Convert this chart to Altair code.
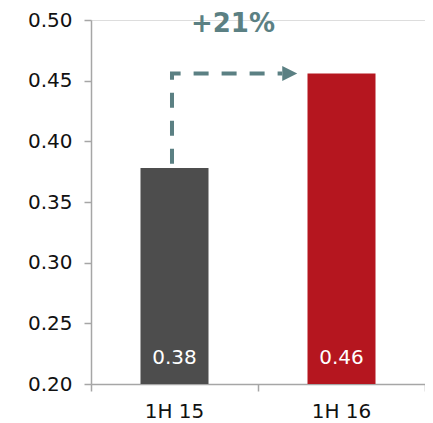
import altair as alt
import pandas as pd

categories = ["1H 15", "1H 16"]
positions = [0.5, 1.5]
values = [0.378, 0.456]
value_labels = ["0.38", "0.46"]
bar_colors = ["#4d4d4d", "#b5161f"]

arrow_x = [0.485, 0.485, 1.145]
arrow_y = [0.3815, 0.456, 0.456]
head_x = [1.19]
head_y = [0.456]
growth_label = ["+21%"]
growth_x = [0.85]
growth_y = [0.497]

W, H = 334, 364
FONT = "DejaVu Sans"
TEAL = "#5b8083"

bars_df = pd.DataFrame({"cat": categories, "pos": positions, "val": values,
                        "lab": value_labels, "color": bar_colors})
arrow_df = pd.DataFrame({"x": arrow_x, "y": arrow_y, "o": list(range(len(arrow_x)))})
head_df = pd.DataFrame({"x": head_x, "y": head_y})
growth_df = pd.DataFrame({"t": growth_label, "x": growth_x, "y": growth_y})

xscale = alt.Scale(domain=[0, 2], nice=False, zero=False, padding=0)
yscale = alt.Scale(domain=[0.2, 0.5], nice=False, zero=False, padding=0)

xaxis = alt.Axis(values=[0, 1, 2], labels=False, title=None, grid=False,
                 tickSize=7, domainColor="#a6a6a6", tickColor="#a6a6a6",
                 domainWidth=1.5, tickWidth=1.5)
yaxis = alt.Axis(values=[0.2, 0.25, 0.3, 0.35, 0.4, 0.45, 0.5], format=".2f",
                 title=None, grid=False, tickSize=7, labelPadding=12,
                 labelFont=FONT, labelFontSize=20, labelColor="#111111",
                 domainColor="#a6a6a6", tickColor="#a6a6a6",
                 domainWidth=1.5, tickWidth=1.5)

base = alt.Chart(bars_df)

bars = base.mark_bar(size=68).encode(
    x=alt.X("pos:Q", scale=xscale, axis=xaxis),
    y=alt.Y("val:Q", scale=yscale, axis=yaxis),
    y2=alt.datum(0.2),
    color=alt.Color("color:N", scale=None, legend=None),
)

bar_text = base.mark_text(font=FONT, fontSize=20, color="white", baseline="middle").encode(
    x=alt.X("pos:Q", scale=xscale),
    y=alt.value(H - 26),
    text="lab:N",
)

cat_text = base.mark_text(font=FONT, fontSize=20, color="#111111", baseline="middle").encode(
    x=alt.X("pos:Q", scale=xscale),
    y=alt.value(H + 28),
    text="cat:N",
)

arrow = alt.Chart(arrow_df).mark_line(color=TEAL, strokeWidth=4, strokeDash=[15, 13],
                                      strokeCap="butt").encode(
    x=alt.X("x:Q", scale=xscale),
    y=alt.Y("y:Q", scale=yscale),
    order="o:O",
)

head = alt.Chart(head_df).mark_point(shape="M-1,-1L1,0L-1,1Z", size=225, filled=True,
                                     color=TEAL, opacity=1, strokeWidth=0).encode(
    x=alt.X("x:Q", scale=xscale),
    y=alt.Y("y:Q", scale=yscale),
)

growth = alt.Chart(growth_df).mark_text(font=FONT, fontSize=26, fontWeight="bold",
                                        color=TEAL, baseline="middle").encode(
    x=alt.X("x:Q", scale=xscale),
    y=alt.Y("y:Q", scale=yscale),
    text="t:N",
)

chart = alt.layer(bars, bar_text, cat_text, arrow, head, growth).properties(
    width=W, height=H,
    autosize=alt.AutoSizeParams(type="none"),
    padding={"left": 83, "top": 12, "right": 0, "bottom": 38},
).configure_view(stroke=None).configure(background="white")

chart.save("out.html", embed_options={"renderer": "svg", "actions": False})
